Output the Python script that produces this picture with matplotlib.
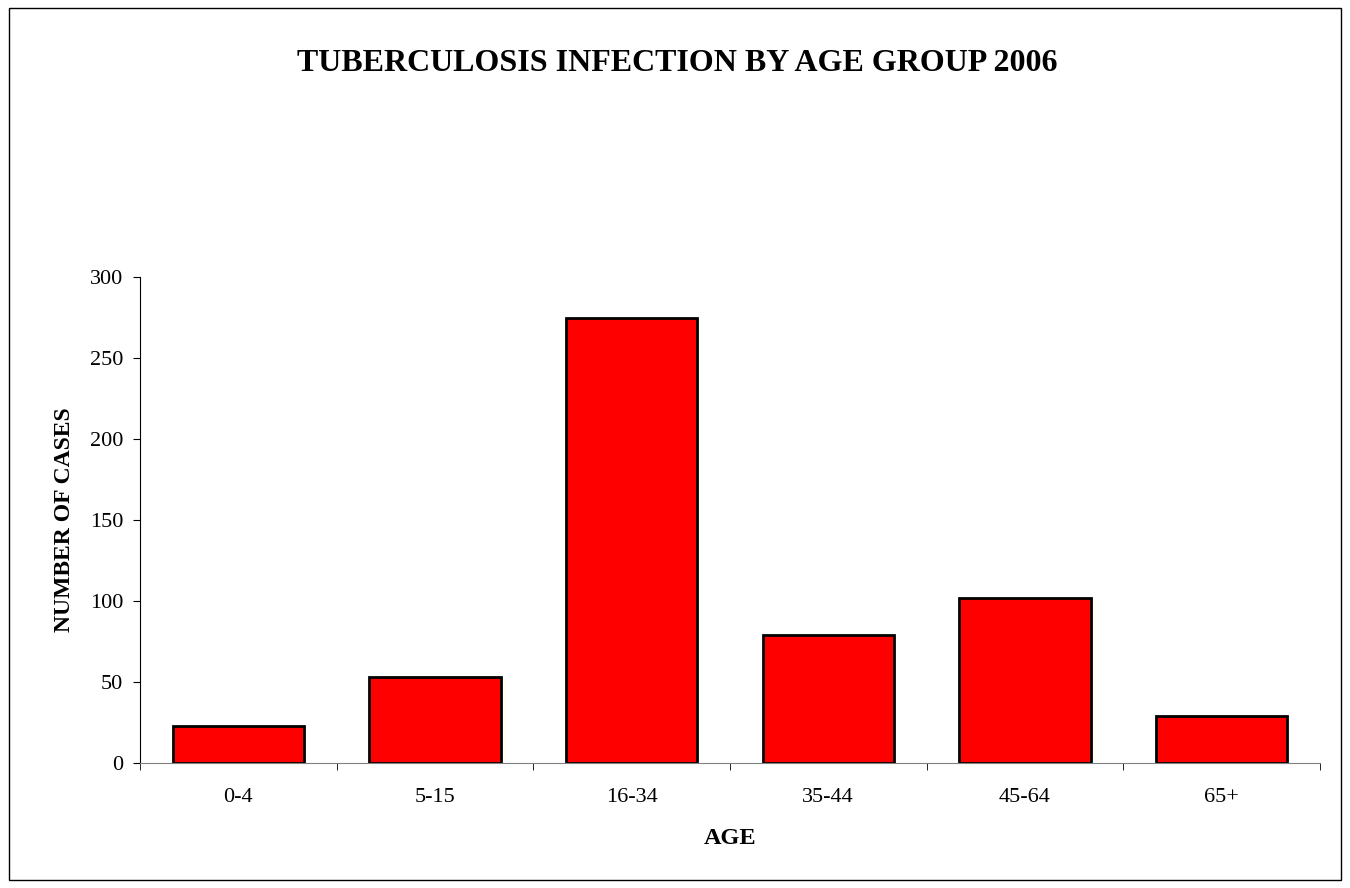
import matplotlib.pyplot as plt
from matplotlib.patches import Rectangle
import numpy as np

plt.rcParams['font.family'] = ['Liberation Serif', 'DejaVu Serif']

grupos = ["0-4", "5-15", "16-34", "35-44", "45-64", "65+"]
casos = [23, 53, 275, 79, 102, 29]

fig = plt.figure(figsize=(13.5, 8.88), dpi=100)
ax = fig.add_axes([0.1037, 0.1408, 0.874, 0.547])

x = np.arange(len(grupos))
ax.bar(x, casos, width=0.667, color="#ff0000", edgecolor="black", linewidth=2)

ax.set_xlim(-0.5, len(grupos) - 0.5)
ax.set_ylim(0, 300)
ax.set_yticks(range(0, 301, 50))
ax.set_xticks(x)
ax.set_xticklabels(grupos)
ax.set_xticks(np.arange(-0.5, len(grupos), 1), minor=True)

ax.tick_params(axis="x", which="major", length=0, pad=18, labelsize=16)
ax.tick_params(axis="x", which="minor", length=5, direction="out", color="black")
ax.tick_params(axis="y", length=5, direction="out", labelsize=16, pad=7)

ax.spines["top"].set_visible(False)
ax.spines["right"].set_visible(False)
ax.spines["left"].set_color("black")
ax.spines["bottom"].set_color("#808080")

ax.set_xlabel("AGE", fontsize=17.5, fontweight="bold", labelpad=15)
ax.set_ylabel("NUMBER OF CASES", fontsize=17, fontweight="bold", labelpad=11)

fig.text(0.5015, 0.929, "TUBERCULOSIS INFECTION BY AGE GROUP 2006",
         ha="center", va="center", fontsize=23, fontweight="bold")

# borde alrededor de la figura
fig.patches.append(Rectangle((0.0067, 0.009), 0.9866, 0.9825, transform=fig.transFigure,
                             fill=False, edgecolor="black", linewidth=1))

plt.savefig("out.png", dpi=100)
